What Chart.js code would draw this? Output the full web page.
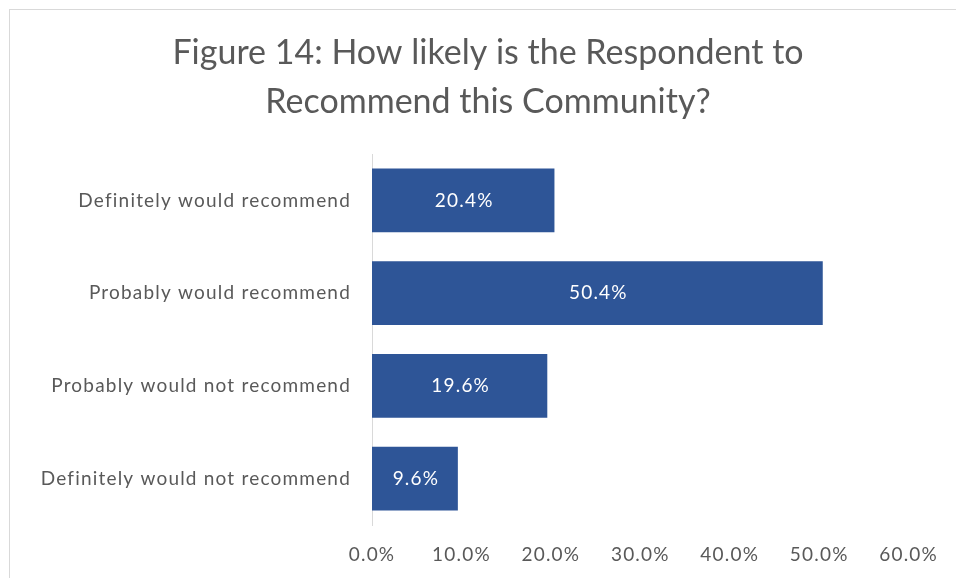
<!DOCTYPE html>
<html>
<head>
<meta charset="utf-8">
<script src="https://cdn.jsdelivr.net/npm/chart.js@4"></script>
<style>
	html, body { margin: 0; padding: 0; background: #fff; }
	#wrap { width: 956px; height: 578px; position: relative; }
</style>
</head>
<body>
<div id="wrap"><canvas id="recommendChart"></canvas></div>
<script>
const categories = [
	"Definitely would recommend",
	"Probably would recommend",
	"Probably would not recommend",
	"Definitely would not recommend"
];
const shares = [20.4, 50.4, 19.6, 9.6];
const axisTicks = [0, 10, 20, 30, 40, 50, 60];
const titleLines = ['Figure 14: How likely is the Respondent to', 'Recommend this Community?'];

const FONT = "Lato, 'Open Sans', sans-serif";
const TEXT_GREY = '#595959';
const SPACING = '1.2px';

// background, thin chart frame and a bit of letter spacing for axis text
const framePlugin = {
	id: 'frame',
	beforeLayout(chart) {
		chart.ctx.letterSpacing = SPACING;
	},
	beforeDraw(chart) {
		const ctx = chart.ctx;
		ctx.save();
		ctx.fillStyle = '#fff';
		ctx.fillRect(0, 0, chart.width, chart.height);
		ctx.strokeStyle = '#d9d9d9';
		ctx.lineWidth = 1;
		ctx.strokeRect(9.5, 9.5, chart.width + 20, chart.height + 20);
		ctx.restore();
		ctx.letterSpacing = SPACING;
	}
};

// two-line heading, centred over the whole box
const headingPlugin = {
	id: 'heading',
	afterDraw(chart) {
		const ctx = chart.ctx;
		ctx.save();
		ctx.letterSpacing = '0px';
		ctx.fillStyle = TEXT_GREY;
		ctx.font = '34px ' + FONT;
		ctx.textAlign = 'center';
		ctx.textBaseline = 'alphabetic';
		titleLines.forEach((line, i) => {
			ctx.fillText(line, 488, 64 + i * 49);
		});
		ctx.restore();
	}
};

// value labels in the middle of each bar
const barLabels = {
	id: 'barLabels',
	afterDatasetsDraw(chart) {
		const ctx = chart.ctx;
		const meta = chart.getDatasetMeta(0);
		ctx.save();
		ctx.letterSpacing = SPACING;
		ctx.fillStyle = '#fff';
		ctx.font = '19px ' + FONT;
		ctx.textAlign = 'center';
		ctx.textBaseline = 'middle';
		meta.data.forEach((bar, i) => {
			const cx = (bar.x + bar.base) / 2;
			ctx.fillText(shares[i].toFixed(1) + '%', cx + 1, bar.y);
		});
		ctx.restore();
	}
};

const ctx = document.getElementById('recommendChart');
new Chart(ctx, {
	type: 'bar',
	data: {
		labels: categories,
		datasets: [{
			data: shares,
			backgroundColor: '#2e5597',
			borderWidth: 0,
			categoryPercentage: 0.69,
			barPercentage: 1
		}]
	},
	options: {
		indexAxis: 'y',
		responsive: true,
		maintainAspectRatio: false,
		animation: false,
		layout: {
			padding: { top: 154, right: 47, bottom: 0, left: 0 }
		},
		plugins: {
			legend: { display: false },
			tooltip: { enabled: false },
			title: { display: false }
		},
		scales: {
			x: {
				min: 0,
				max: 60,
				afterBuildTicks(scale) {
					scale.ticks = axisTicks.map(v => ({ value: v }));
				},
				afterFit(scale) {
					scale.height = 53;
				},
				grid: { display: false, drawTicks: false },
				border: { display: false },
				ticks: {
					color: TEXT_GREY,
					font: { family: FONT, size: 19 },
					padding: 18,
					maxRotation: 0,
					callback: v => v.toFixed(1) + '%'
				}
			},
			y: {
				afterFit(scale) {
					scale.width = 372;
				},
				grid: { display: false, drawTicks: false },
				border: { display: true, color: '#d9d9d9', width: 1 },
				ticks: {
					color: TEXT_GREY,
					font: { family: FONT, size: 19 },
					padding: 21
				}
			}
		}
	},
	plugins: [framePlugin, headingPlugin, barLabels]
});
</script>
</body>
</html>
